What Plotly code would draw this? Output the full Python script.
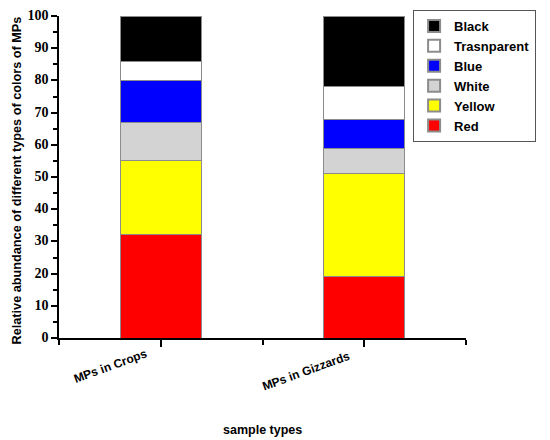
import plotly.graph_objects as go

categories = ["MPs in Crops", "MPs in Gizzards"]
series_names = ["Red", "Yellow", "White", "Blue", "Trasnparent", "Black"]
red = [32, 19]
yellow = [23, 32]
white = [12, 8]
blue = [13, 9]
transparent = [6, 10]
black = [14, 22]
y_ticks = [0, 10, 20, 30, 40, 50, 60, 70, 80, 90, 100]

colors = ["#ff0000", "#ffff00", "#d3d3d3", "#0000ff", "#ffffff", "#000000"]
values = [red, yellow, white, blue, transparent, black]

fig = go.Figure()
x_pos = [1, 2]
for name, vals, col in zip(series_names, values, colors):
    fig.add_trace(go.Bar(
        x=x_pos, y=vals, name=name, width=0.4,
        marker=dict(color=col, line=dict(color="#8c8c8c", width=1)),
    ))

sans = "Liberation Sans, Arial"
label_shift = [-50, -58]
label_y = [-0.0870, -0.1025]
for xp, txt, xs, yp in zip(x_pos, categories, label_shift, label_y):
    fig.add_annotation(
        x=xp, y=yp, xref="x", yref="paper", text=txt, showarrow=False,
        xshift=xs, textangle=-20, xanchor="center", yanchor="middle",
        font=dict(family=sans, size=12, color="black", weight="bold"),
    )
fig.add_annotation(
    x=0.4988, y=-0.2857, xref="paper", yref="paper", text="sample types",
    showarrow=False, xanchor="center", yanchor="middle",
    font=dict(family=sans, size=12.5, color="black", weight="bold"),
)
fig.add_annotation(
    x=-0.1020, y=0.4907, xref="paper", yref="paper",
    text="Relative abundance of different types of colors of MPs",
    showarrow=False, textangle=-90, xanchor="center", yanchor="middle",
    font=dict(family=sans, size=12.7, color="black", weight="bold"),
)

fig.update_layout(
    template="none",
    barmode="stack",
    width=550, height=440,
    margin=dict(l=51, r=92, t=8, b=110, autoexpand=False),
    paper_bgcolor="white", plot_bgcolor="white",
    showlegend=True,
    legend=dict(
        x=0.870, y=1.0186, xanchor="left", yanchor="top",
        xref="paper", yref="paper",
        traceorder="reversed",
        bordercolor="#555555", borderwidth=1, bgcolor="white",
        font=dict(family=sans, size=13, color="black", weight="bold"),
        itemsizing="constant", tracegroupgap=0,
    ),
    xaxis=dict(
        automargin=False,
        range=[0.5, 2.5],
        tickmode="array", tickvals=x_pos, ticktext=["", ""],
        ticks="outside", ticklen=7, tickwidth=1.5, tickcolor="black",
        minor=dict(tickmode="array", tickvals=[0.5, 1.5, 2.5], ticks="outside", ticklen=5, tickcolor="black", tickwidth=1.5),
        showline=True, linecolor="black", linewidth=1.5,
        showgrid=False, zeroline=False,
    ),
    yaxis=dict(
        automargin=False,
        range=[0, 100],
        tickmode="array", tickvals=y_ticks,
        ticklabelshift=-1, ticklabeloverflow="allow",
        ticks="outside", ticklen=6, tickwidth=1.5, tickcolor="black",
        minor=dict(dtick=5, ticks="outside", ticklen=4, tickcolor="black", tickwidth=1.5),
        showline=True, linecolor="black", linewidth=1.5,
        showgrid=False, zeroline=False,
        tickfont=dict(family="Liberation Serif, Times New Roman", size=14, color="black", weight="bold"),
    ),
)

fig.write_html("out.html")
